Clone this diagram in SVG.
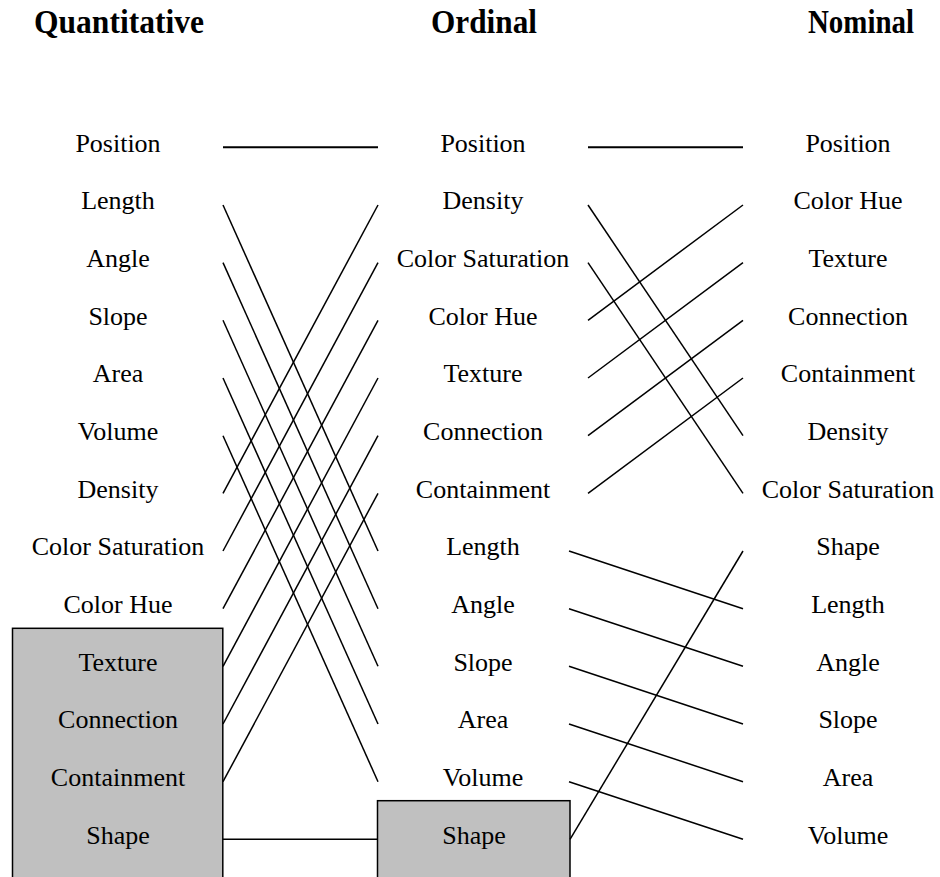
<svg xmlns="http://www.w3.org/2000/svg" width="940" height="877" viewBox="0 0 940 877">
<style>
text{font-family:"Liberation Serif","Times New Roman",serif;fill:#000;text-anchor:middle}
.t{font-size:33px;font-weight:bold}
.l{font-size:26px}
.box{fill:#c0c0c0;stroke:#000;stroke-width:1.5}
#connectors line{stroke:#000;stroke-width:1.5;fill:none}
#connectors line.h{stroke-width:2}
</style>
<rect width="940" height="877" fill="#fff"/>
<g id="titles">
<text class="t" x="119" y="33" textLength="170" lengthAdjust="spacingAndGlyphs">Quantitative</text>
<text class="t" x="484" y="33" textLength="106" lengthAdjust="spacingAndGlyphs">Ordinal</text>
<text class="t" x="861" y="33" textLength="106" lengthAdjust="spacingAndGlyphs">Nominal</text>
</g>
<g id="q-box"><rect class="box" x="12.5" y="628.3" width="210.3" height="260"/></g>
<g id="o-box"><rect class="box" x="377.5" y="800.7" width="192.5" height="90"/></g>
<g id="quantitative">
<g id="q-position"><text class="l" x="118" y="151.7">Position</text></g>
<g id="q-length"><text class="l" x="118" y="209.4">Length</text></g>
<g id="q-angle"><text class="l" x="118" y="267">Angle</text></g>
<g id="q-slope"><text class="l" x="118" y="324.7">Slope</text></g>
<g id="q-area"><text class="l" x="118" y="382.4">Area</text></g>
<g id="q-volume"><text class="l" x="118" y="440.1">Volume</text></g>
<g id="q-density"><text class="l" x="118" y="497.7">Density</text></g>
<g id="q-colorsat"><text class="l" x="118" y="555.4">Color Saturation</text></g>
<g id="q-colorhue"><text class="l" x="118" y="613.1">Color Hue</text></g>
<g id="q-texture"><text class="l" x="118" y="670.7">Texture</text></g>
<g id="q-connection"><text class="l" x="118" y="728.4">Connection</text></g>
<g id="q-containment"><text class="l" x="118" y="786.1">Containment</text></g>
<g id="q-shape"><text class="l" x="118" y="843.7">Shape</text></g>
</g>
<g id="ordinal">
<g id="o-position"><text class="l" x="483" y="151.7">Position</text></g>
<g id="o-density"><text class="l" x="483" y="209.4">Density</text></g>
<g id="o-colorsat"><text class="l" x="483" y="267">Color Saturation</text></g>
<g id="o-colorhue"><text class="l" x="483" y="324.7">Color Hue</text></g>
<g id="o-texture"><text class="l" x="483" y="382.4">Texture</text></g>
<g id="o-connection"><text class="l" x="483" y="440.1">Connection</text></g>
<g id="o-containment"><text class="l" x="483" y="497.7">Containment</text></g>
<g id="o-length"><text class="l" x="483" y="555.4">Length</text></g>
<g id="o-angle"><text class="l" x="483" y="613.1">Angle</text></g>
<g id="o-slope"><text class="l" x="483" y="670.7">Slope</text></g>
<g id="o-area"><text class="l" x="483" y="728.4">Area</text></g>
<g id="o-volume"><text class="l" x="483" y="786.1">Volume</text></g>
<g id="o-shape"><text class="l" x="474" y="843.7">Shape</text></g>
</g>
<g id="nominal">
<g id="n-position"><text class="l" x="848" y="151.7">Position</text></g>
<g id="n-colorhue"><text class="l" x="848" y="209.4">Color Hue</text></g>
<g id="n-texture"><text class="l" x="848" y="267">Texture</text></g>
<g id="n-connection"><text class="l" x="848" y="324.7">Connection</text></g>
<g id="n-containment"><text class="l" x="848" y="382.4">Containment</text></g>
<g id="n-density"><text class="l" x="848" y="440.1">Density</text></g>
<g id="n-colorsat"><text class="l" x="848" y="497.7">Color Saturation</text></g>
<g id="n-shape"><text class="l" x="848" y="555.4">Shape</text></g>
<g id="n-length"><text class="l" x="848" y="613.1">Length</text></g>
<g id="n-angle"><text class="l" x="848" y="670.7">Angle</text></g>
<g id="n-slope"><text class="l" x="848" y="728.4">Slope</text></g>
<g id="n-area"><text class="l" x="848" y="786.1">Area</text></g>
<g id="n-volume"><text class="l" x="848" y="843.7">Volume</text></g>
</g>
<g id="connectors">
<line class="h" x1="223" y1="147.3" x2="378" y2="147.3"/>
<line x1="223" y1="205" x2="378" y2="551"/>
<line x1="223" y1="262.6" x2="378" y2="608.7"/>
<line x1="223" y1="320.3" x2="378" y2="666.3"/>
<line x1="223" y1="378" x2="378" y2="724"/>
<line x1="223" y1="435.7" x2="378" y2="781.7"/>
<line x1="223" y1="493.3" x2="378" y2="205"/>
<line x1="223" y1="551" x2="378" y2="262.6"/>
<line x1="223" y1="608.7" x2="378" y2="320.3"/>
<line x1="223" y1="666.3" x2="378" y2="378"/>
<line x1="223" y1="724" x2="378" y2="435.7"/>
<line x1="223" y1="781.7" x2="378" y2="493.3"/>
<line x1="223" y1="839.3" x2="378" y2="839.3"/>
<line class="h" x1="588" y1="147.3" x2="743" y2="147.3"/>
<line x1="588" y1="205" x2="743" y2="435.7"/>
<line x1="588" y1="262.6" x2="743" y2="493.3"/>
<line x1="588" y1="320.3" x2="743" y2="205"/>
<line x1="588" y1="378" x2="743" y2="262.6"/>
<line x1="588" y1="435.7" x2="743" y2="320.3"/>
<line x1="588" y1="493.3" x2="743" y2="378"/>
<line x1="569" y1="551" x2="743" y2="608.7"/>
<line x1="569" y1="608.7" x2="743" y2="666.3"/>
<line x1="569" y1="666.3" x2="743" y2="724"/>
<line x1="569" y1="724" x2="743" y2="781.7"/>
<line x1="569" y1="781.7" x2="743" y2="839.3"/>
<line x1="570" y1="839.3" x2="743" y2="551"/>
</g>
</svg>
